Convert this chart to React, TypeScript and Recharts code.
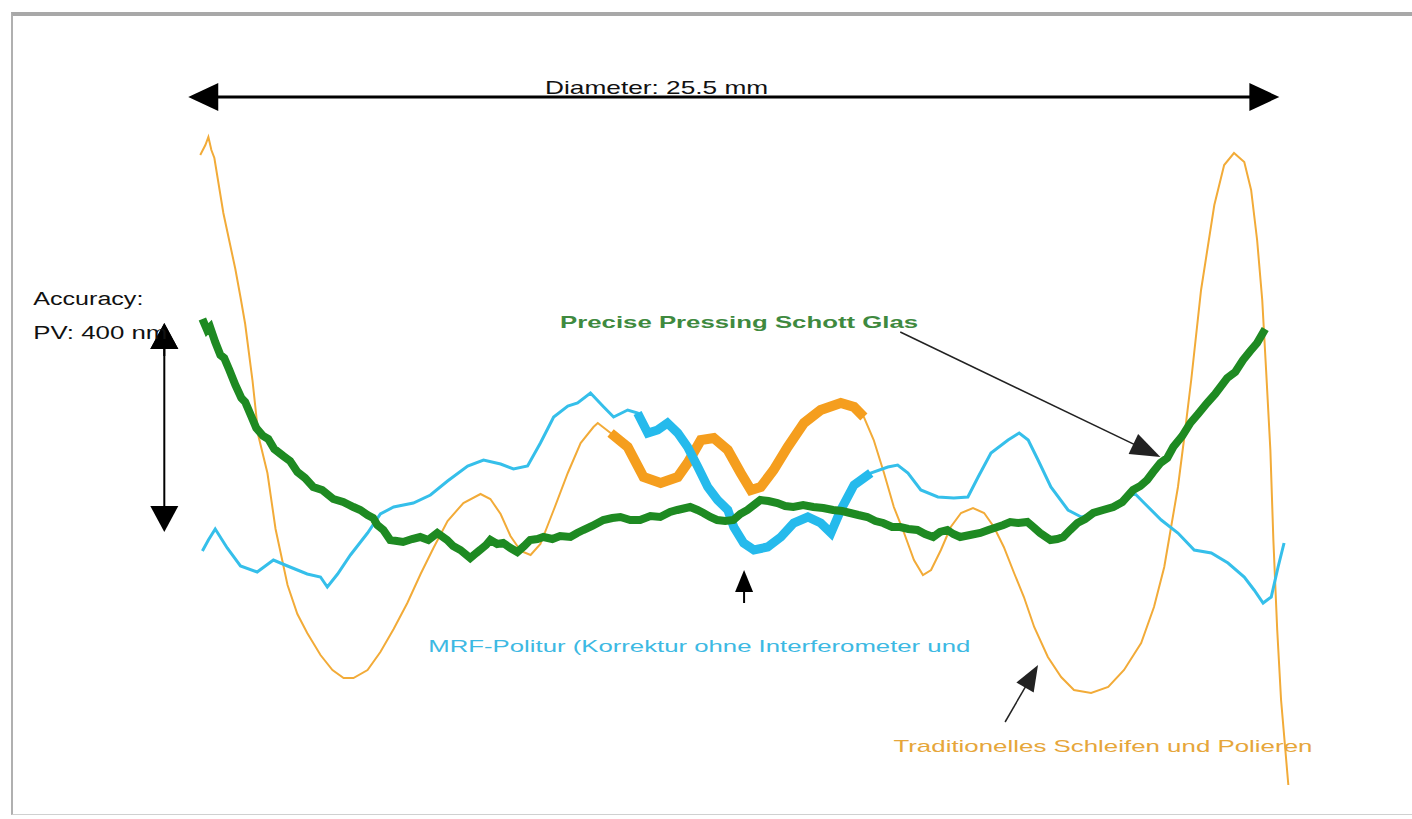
import React from 'react';
import { LineChart, Line, XAxis, YAxis, ReferenceLine, ReferenceDot } from 'recharts';

// Position across the lens (mm) and surface deviation (nm)
const traditionalMm = [0.28, 0.4, 0.47, 0.54, 0.61, 0.82, 0.98, 1.1, 1.22, 1.33, 1.5, 1.64, 1.85, 2.04, 2.32, 2.55, 2.78, 3.09, 3.37, 3.63, 3.86, 4.19, 4.49, 4.8, 5.12, 5.43, 5.73, 6.06, 6.43, 6.83, 7.06, 7.3, 7.53, 7.77, 8.0, 8.23, 8.54, 8.87, 9.17, 9.47, 9.57, 9.87, 10.27, 10.64, 11.04, 11.44, 11.67, 11.98, 12.28, 12.61, 12.91, 13.15, 13.38, 13.68, 14.01, 14.39, 14.78, 15.25, 15.56, 15.79, 16.02, 16.26, 16.49, 16.73, 16.96, 17.17, 17.36, 17.59, 17.82, 18.06, 18.34, 18.6, 18.83, 19.06, 19.3, 19.53, 19.77, 20.09, 20.4, 20.7, 21.1, 21.5, 21.87, 22.27, 22.57, 22.81, 22.97, 23.13, 23.27, 23.44, 23.67, 23.98, 24.21, 24.44, 24.68, 24.84, 24.98, 25.1, 25.19, 25.29, 25.36, 25.45, 25.54, 25.64, 25.71];
const traditionalNm = [752, 772, 788, 762, 746, 636, 572, 524, 468, 414, 302, 190, 116, 4, -108, -166, -204, -248, -278, -294, -294, -278, -242, -196, -144, -86, -34, 20, 56, 74, 64, 34, -10, -40, -48, -26, 42, 116, 176, 208, 216, 196, 168, 108, 96, 108, 136, 182, 186, 162, 116, 82, 88, 122, 168, 216, 242, 256, 248, 228, 182, 116, 48, -4, -58, -88, -78, -38, 8, 36, 46, 36, 8, -32, -84, -132, -192, -252, -292, -318, -324, -312, -278, -224, -152, -72, 8, 88, 182, 302, 482, 652, 732, 756, 738, 682, 582, 462, 322, 162, -18, -198, -338, -438, -508];

const mrfMm = [0.33, 0.47, 0.63, 0.91, 1.22, 1.61, 1.99, 2.32, 2.78, 3.09, 3.25, 3.49, 3.79, 4.19, 4.49, 4.8, 5.26, 5.66, 6.06, 6.53, 6.9, 7.3, 7.6, 7.93, 8.23, 8.54, 8.87, 9.1, 9.4, 9.71, 9.94, 10.27, 10.5, 10.74, 10.97, 11.2, 11.44, 11.67, 11.91, 12.14, 12.37, 12.61, 12.75, 12.98, 13.22, 13.54, 13.85, 14.15, 14.48, 14.78, 15.02, 15.25, 15.56, 15.95, 16.35, 16.58, 16.82, 17.12, 17.52, 17.89, 18.22, 18.46, 18.76, 19.16, 19.42, 19.63, 19.86, 20.16, 20.56, 20.87, 21.26, 21.73, 22.11, 22.34, 22.74, 23.13, 23.51, 23.91, 24.3, 24.68, 24.91, 25.12, 25.31, 25.47, 25.61];
const mrfNm = [-40, -18, 4, -34, -70, -82, -58, -70, -86, -92, -112, -86, -48, -4, 34, 48, 56, 72, 100, 130, 142, 134, 124, 130, 176, 228, 250, 256, 276, 248, 228, 242, 236, 196, 202, 216, 196, 168, 128, 88, 62, 42, 8, -24, -38, -32, -12, 16, 28, 16, -4, 42, 92, 116, 128, 132, 116, 82, 68, 66, 68, 108, 156, 182, 196, 182, 142, 88, 42, 28, 36, 48, 76, 56, 22, -4, -38, -44, -64, -92, -118, -144, -132, -72, -24];

const pressingMm = [0.33, 0.44, 0.51, 0.63, 0.75, 0.84, 0.96, 1.1, 1.24, 1.33, 1.47, 1.59, 1.75, 1.87, 2.01, 2.22, 2.38, 2.55, 2.73, 2.92, 3.13, 3.39, 3.62, 3.86, 4.02, 4.19, 4.32, 4.42, 4.56, 4.72, 5.02, 5.23, 5.42, 5.61, 5.82, 6.05, 6.19, 6.36, 6.59, 6.73, 6.82, 6.96, 7.06, 7.22, 7.36, 7.53, 7.69, 7.85, 7.99, 8.16, 8.3, 8.51, 8.69, 8.93, 9.09, 9.23, 9.44, 9.7, 9.91, 10.1, 10.33, 10.56, 10.8, 11.03, 11.26, 11.43, 11.73, 11.9, 12.04, 12.2, 12.36, 12.55, 12.74, 12.9, 13.07, 13.37, 13.56, 13.77, 13.95, 14.14, 14.37, 14.61, 14.84, 15.07, 15.28, 15.47, 15.66, 15.87, 16.06, 16.24, 16.45, 16.64, 16.83, 17.04, 17.22, 17.41, 17.57, 17.74, 17.88, 18.04, 18.27, 18.51, 18.7, 18.91, 19.05, 19.21, 19.4, 19.61, 19.75, 19.91, 20.15, 20.31, 20.45, 20.61, 20.78, 20.96, 21.15, 21.38, 21.62, 21.83, 22.08, 22.25, 22.41, 22.55, 22.72, 22.88, 23.02, 23.23, 23.42, 23.6, 23.81, 24.0, 24.28, 24.47, 24.65, 24.82, 24.98, 25.17];
const pressingNm = [424, 402, 408, 378, 352, 346, 322, 292, 266, 258, 230, 206, 190, 184, 164, 150, 140, 118, 106, 88, 82, 64, 58, 48, 42, 32, 26, 12, 2, -18, -22, -16, -12, -18, -4, -18, -30, -38, -54, -44, -38, -28, -18, -26, -24, -34, -42, -30, -18, -16, -12, -16, -10, -12, -4, 2, 10, 22, 26, 28, 22, 22, 30, 28, 38, 42, 48, 42, 36, 28, 22, 20, 22, 34, 42, 62, 60, 56, 50, 48, 52, 48, 46, 42, 40, 36, 32, 28, 20, 16, 8, 8, 4, 2, -6, -12, -2, 2, -6, -12, -8, -4, 2, 8, 12, 18, 16, 18, 8, -4, -18, -16, -12, 2, 16, 24, 36, 42, 48, 58, 82, 90, 102, 118, 136, 146, 168, 190, 216, 234, 256, 274, 306, 318, 342, 360, 376, 404];

const diameterMm = 25.5;
const accuracyNm = 400;
const labels = {
  diameter: 'Diameter: 25.5 mm',
  accuracy: 'Accuracy:',
  pv: 'PV: 400 nm',
  pressing: 'Precise Pressing Schott Glas',
  mrf: 'MRF-Politur (Korrektur ohne Interferometer und',
  traditional: 'Traditionelles Schleifen und Polieren',
};

const toRows = (xs: number[], ys: number[]) => xs.map((x, i) => ({ x, y: ys[i] }));
const traditional = toRows(traditionalMm, traditionalNm);
const mrf = toRows(mrfMm, mrfNm);
const pressing = toRows(pressingMm, pressingNm);
const traditionalThick = traditional.filter((d) => d.x >= 9.8 && d.x <= 15.85);
const mrfThick = mrf.filter((d) => d.x >= 10.4 && d.x <= 15.95);

const FONT = '"Liberation Sans", Arial, sans-serif';

function arrow(o: { color: string; width: number; headLen: number; headHalf: number; start?: boolean; end?: boolean }) {
  return (props: any) => {
    const { x1, y1, x2, y2 } = props;
    const dx = x2 - x1;
    const dy = y2 - y1;
    const len = Math.hypot(dx, dy) || 1;
    const ux = dx / len;
    const uy = dy / len;
    const head = (tx: number, ty: number, dx2: number, dy2: number) => {
      const bx = tx - dx2 * o.headLen;
      const by = ty - dy2 * o.headLen;
      const px = -dy2;
      const py = dx2;
      return `${tx},${ty} ${bx + px * o.headHalf},${by + py * o.headHalf} ${bx - px * o.headHalf},${by - py * o.headHalf}`;
    };
    const sx = o.start ? x1 + ux * o.headLen * 0.7 : x1;
    const sy = o.start ? y1 + uy * o.headLen * 0.7 : y1;
    const ex = o.end ? x2 - ux * o.headLen * 0.7 : x2;
    const ey = o.end ? y2 - uy * o.headLen * 0.7 : y2;
    return (
      <g>
        <line x1={sx} y1={sy} x2={ex} y2={ey} stroke={o.color} strokeWidth={o.width} />
        {o.end && <polygon points={head(x2, y2, ux, uy)} fill={o.color} />}
        {o.start && <polygon points={head(x1, y1, -ux, -uy)} fill={o.color} />}
      </g>
    );
  };
}

function textShape(text: string, o: { color: string; size: number; length: number; bold?: boolean }) {
  return (props: any) => (
    <text
      x={props.cx}
      y={props.cy}
      fill={o.color}
      fontSize={o.size}
      fontFamily={FONT}
      fontWeight={o.bold ? 'bold' : 'normal'}
      textLength={o.length}
      lengthAdjust="spacingAndGlyphs"
    >
      {text}
    </text>
  );
}

export default function App() {
  return (
    <div style={{ position: 'absolute', left: 0, top: 0, width: 1412, height: 819, background: '#fff' }}>
      <div
        style={{
          position: 'absolute',
          left: 11,
          top: 12,
          width: 1420,
          height: 803,
          borderTop: '4px solid #a8a8a8',
          borderLeft: '2px solid #b0b0b0',
          borderBottom: '1px solid #d0d0d0',
          boxSizing: 'border-box',
        }}
      />
      <div style={{ position: 'absolute', left: 0, top: 0 }}>
        <LineChart width={1412} height={819} margin={{ top: 0, right: 0, bottom: 0, left: 0 }}>
          <XAxis type="number" dataKey="x" domain={[-4.4, 28.6]} allowDataOverflow hide />
          <YAxis type="number" dataKey="y" domain={[-576, 1062]} allowDataOverflow hide />
          <Line data={traditional} dataKey="y" stroke="#F2AB38" strokeWidth={2} dot={false} activeDot={false} isAnimationActive={false} />
          <Line data={traditionalThick} dataKey="y" stroke="#F59E1E" strokeWidth={10} dot={false} activeDot={false} isAnimationActive={false} />
          <Line data={mrf} dataKey="y" stroke="#35BFEA" strokeWidth={3} dot={false} activeDot={false} isAnimationActive={false} />
          <Line data={mrfThick} dataKey="y" stroke="#25BAEC" strokeWidth={9} dot={false} activeDot={false} isAnimationActive={false} />
          <Line data={pressing} dataKey="y" stroke="#1E8A22" strokeWidth={8} dot={false} activeDot={false} isAnimationActive={false} />

          <ReferenceLine
            segment={[{ x: 0, y: 868 }, { x: diameterMm, y: 868 }]}
            shape={arrow({ color: '#000', width: 3, headLen: 30, headHalf: 14, start: true, end: true })}
          />
          <ReferenceLine
            segment={[{ x: -0.56, y: -2 }, { x: -0.56, y: accuracyNm + 16 }]}
            shape={arrow({ color: '#000', width: 2, headLen: 26, headHalf: 14, start: true, end: true })}
          />
          <ReferenceLine
            segment={[{ x: 16.64, y: 398 }, { x: 22.72, y: 148 }]}
            shape={arrow({ color: '#222', width: 1.5, headLen: 30, headHalf: 11, end: true })}
          />
          <ReferenceLine
            segment={[{ x: 12.99, y: -144 }, { x: 12.99, y: -78 }]}
            shape={arrow({ color: '#000', width: 2, headLen: 22, headHalf: 9, end: true })}
          />
          <ReferenceLine
            segment={[{ x: 19.09, y: -382 }, { x: 19.86, y: -268 }]}
            shape={arrow({ color: '#222', width: 1.5, headLen: 26, headHalf: 10, end: true })}
          />

          <ReferenceDot x={8.34} y={874} r={1} shape={textShape(labels.diameter, { color: '#111', size: 19, length: 223 })} />
          <ReferenceDot x={-3.62} y={452} r={1} shape={textShape(labels.accuracy, { color: '#111', size: 18, length: 110 })} />
          <ReferenceDot x={-3.62} y={384} r={1} shape={textShape(labels.pv, { color: '#111', size: 18, length: 134 })} />
          <ReferenceDot x={8.69} y={406} r={1} shape={textShape(labels.pressing, { color: '#3F8A3F', size: 17, length: 358, bold: true })} />
          <ReferenceDot x={5.61} y={-242} r={1} shape={textShape(labels.mrf, { color: '#3DB9E3', size: 17, length: 542 })} />
          <ReferenceDot x={16.48} y={-442} r={1} shape={textShape(labels.traditional, { color: '#E6A63A', size: 17, length: 419 })} />
          <ReferenceLine
            segment={[{ x: -0.56, y: 350 }, { x: -0.56, y: accuracyNm + 16 }]}
            shape={arrow({ color: '#000', width: 2, headLen: 26, headHalf: 14, end: true })}
          />
        </LineChart>
      </div>
    </div>
  );
}
